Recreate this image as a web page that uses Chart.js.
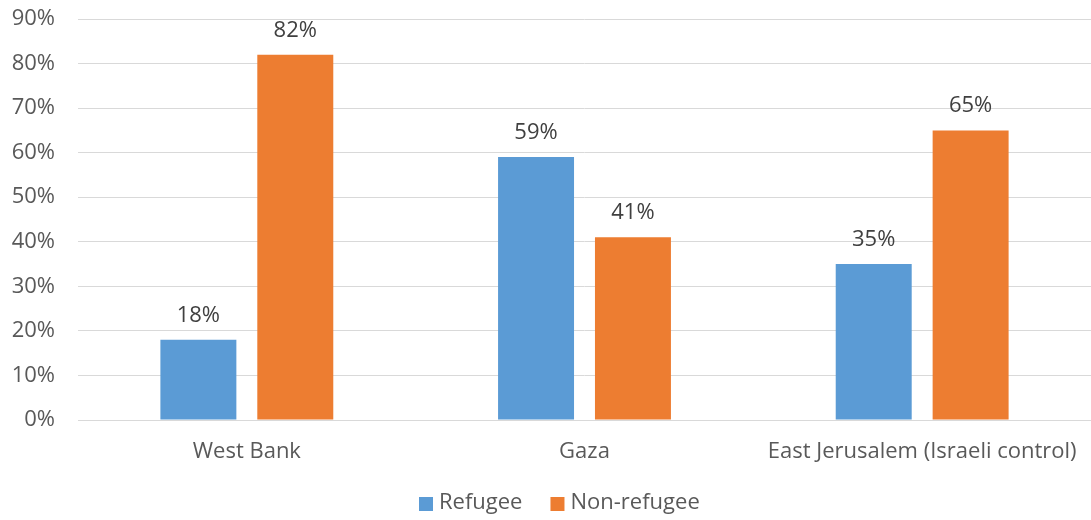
<!DOCTYPE html>
<html>
<head>
<meta charset="utf-8">
<script src="https://cdn.jsdelivr.net/npm/chart.js@4"></script>
<style>
  html, body { margin: 0; padding: 0; background: #fff; }
  #wrap { width: 1091px; height: 520px; }
</style>
</head>
<body>
<div id="wrap"><canvas id="chart"></canvas></div>
<script>
const categories = ["West Bank", "Gaza", "East Jerusalem (Israeli control)"];
const refugee = [18, 59, 35];
const nonRefugee = [82, 41, 65];
const seriesNames = ["Refugee", "Non-refugee"];
const colors = ["#5B9BD5", "#ED7D31"];

const FONT = "Open Sans";
const SIZE = 22;

// value labels above each bar
const barLabels = {
  id: "barLabels",
  afterDatasetsDraw(chart) {
    const ctx = chart.ctx;
    ctx.save();
    ctx.font = SIZE + "px '" + FONT + "'";
    ctx.fillStyle = "#404040";
    ctx.textAlign = "center";
    ctx.textBaseline = "alphabetic";
    chart.data.datasets.forEach((ds, i) => {
      chart.getDatasetMeta(i).data.forEach((bar, j) => {
        ctx.fillText(ds.data[j] + "%", bar.x, bar.y - 18);
      });
    });
    ctx.restore();
  }
};

// legend drawn below the axis labels
const bottomLegend = {
  id: "bottomLegend",
  afterDraw(chart) {
    const ctx = chart.ctx;
    ctx.save();
    ctx.font = SIZE + "px '" + FONT + "'";
    ctx.textBaseline = "middle";
    const box = 14, gapText = 6, gapItem = 28, y = 504;
    let x = 419;
    seriesNames.forEach((n, i) => {
      ctx.fillStyle = colors[i];
      ctx.fillRect(x, y - box / 2, box, box);
      ctx.fillStyle = "#595959";
      ctx.fillText(n, x + box + gapText, y - 1);
      x += box + gapText + ctx.measureText(n).width + gapItem;
    });
    ctx.restore();
  }
};

new Chart(document.getElementById("chart"), {
  type: "bar",
  data: {
    labels: categories,
    datasets: [
      { label: seriesNames[0], data: refugee, backgroundColor: colors[0],
        categoryPercentage: 0.574, barPercentage: 0.784 },
      { label: seriesNames[1], data: nonRefugee, backgroundColor: colors[1],
        categoryPercentage: 0.574, barPercentage: 0.784 }
    ]
  },
  options: {
    responsive: true,
    maintainAspectRatio: false,
    animation: false,
    layout: { padding: { top: 19, right: 0, left: 0, bottom: 42 } },
    scales: {
      x: {
        afterFit(scale) { scale.height = 58; },
        grid: { display: false },
        border: { color: "#d9d9d9", width: 1 },
        ticks: { color: "#595959", font: { family: FONT, size: SIZE }, padding: 11, maxRotation: 0 }
      },
      y: {
        min: 0, max: 90,
        afterFit(scale) { scale.width = 78; },
        grid: { color: "#d9d9d9", drawTicks: true, tickLength: 23, tickColor: "rgba(0,0,0,0)" },
        border: { display: false },
        ticks: { stepSize: 10, color: "#595959", font: { family: FONT, size: SIZE, lineHeight: 1 }, padding: 0,
          callback: v => v + "%" }
      }
    },
    plugins: {
      legend: { display: false },
      tooltip: { enabled: false }
    }
  },
  plugins: [barLabels, bottomLegend]
});
</script>
</body>
</html>
